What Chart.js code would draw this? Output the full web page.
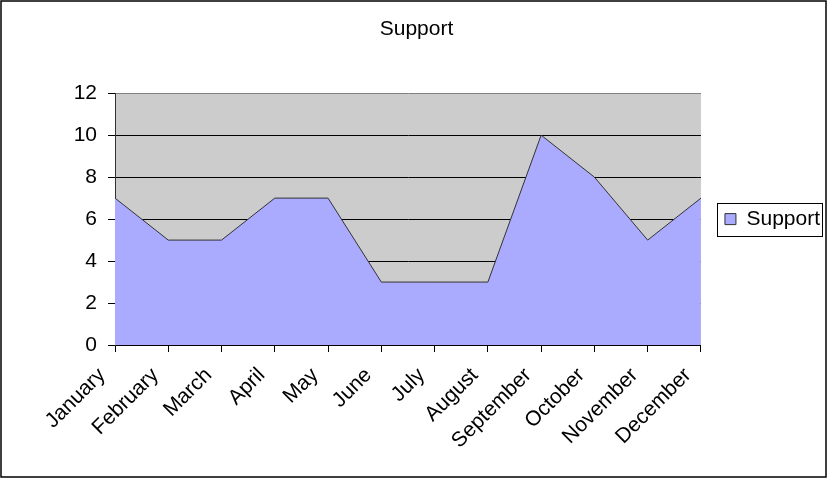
<!DOCTYPE html>
<html>
<head>
<meta charset="utf-8">
<script src="https://cdn.jsdelivr.net/npm/chart.js@4.4.0/dist/chart.umd.min.js"></script>
<style>
  html, body { margin: 0; padding: 0; background: #fff; }
  #wrap { width: 828px; height: 479px; }
</style>
</head>
<body>
<div id="wrap"><canvas id="graphique"></canvas></div>
<script>
// donnees du graphique
const mois = ["January", "February", "March", "April", "May", "June",
              "July", "August", "September", "October", "November", "December"];
const valeursSupport = [7, 5, 5, 7, 7, 3, 3, 3, 10, 8, 5, 7];
const ticksY = [0, 2, 4, 6, 8, 10, 12];
const titreGraphique = "Support";
const nomSerie = "Support";

const police = "'Liberation Sans', Arial, sans-serif";

// fond gris de la zone de tracé + cadre exterieur + cadre de legende
const cadrePlugin = {
    id: 'cadre',
    afterLayout(chart) {
        // centrer la legende sur la zone de tracé
        const leg = chart.legend;
        const a = chart.chartArea;
        if (!leg) return;
        const dy = (a.top + a.bottom) / 2 - (leg.top + leg.bottom) / 2;
        leg.top += dy;
        leg.bottom += dy;
        leg.left += 2;
        leg.right += 2;
    },
    beforeDraw(chart) {
        const a = chart.chartArea;
        const ctx = chart.ctx;
        ctx.save();
        ctx.fillStyle = '#cccccc';
        ctx.fillRect(a.left, a.top, a.right - a.left, a.bottom - a.top);
        ctx.restore();
    },
    afterDraw(chart) {
        const ctx = chart.ctx;
        ctx.save();
        ctx.strokeStyle = '#000';
        ctx.lineWidth = 1.5;
        ctx.strokeRect(1, 1, chart.width - 3, chart.height - 3);
        const boites = chart.legend && chart.legend.legendHitBoxes;
        if (boites && boites.length) {
            const b = boites[0];
            const cy = b.top + b.height / 2;
            ctx.lineWidth = 1;
            ctx.strokeRect(Math.round(b.left) - 7.5, Math.round(cy - 16.5) + 0.5,
                           Math.round(b.width) + 10, 33);
        }
        ctx.restore();
    }
};

const ctx = document.getElementById('graphique').getContext('2d');
const monGraphique = new Chart(ctx, {
    type: 'line',
    data: {
        labels: mois,
        datasets: [{
            label: nomSerie,
            data: valeursSupport,
            fill: 'origin',
            backgroundColor: '#aaaaff',
            borderColor: '#333333',
            borderWidth: 1,
            pointRadius: 0,
            tension: 0
        }]
    },
    options: {
        responsive: true,
        maintainAspectRatio: false,
        animation: false,
        layout: { padding: { left: 5, right: 0, top: 10, bottom: 10 } },
        scales: {
            x: {
                offset: false,
                grid: { display: true, drawOnChartArea: false, tickLength: 7, color: '#000' },
                border: { color: '#000', width: 1 },
                ticks: {
                    autoSkip: false,
                    minRotation: 45,
                    maxRotation: 45,
                    padding: 11,
                    labelOffset: -13,
                    color: '#000',
                    font: { family: police, size: 21 }
                },
                afterFit(scale) { scale.height = 124; }
            },
            y: {
                min: 0,
                max: 12,
                afterBuildTicks(scale) { scale.ticks = ticksY.map(v => ({ value: v })); },
                grid: {
                    tickLength: 7,
                    color: (c) => (c.tick && c.tick.value === 12) ? '#808080' : '#000',
                    tickColor: '#000'
                },
                border: { color: '#333', width: 1 },
                ticks: {
                    padding: 11,
                    color: '#000',
                    font: { family: police, size: 21 }
                },
                afterFit(scale) { scale.width = 110; }
            }
        },
        plugins: {
            title: {
                display: true,
                text: titreGraphique,
                color: '#000',
                font: { family: police, size: 21, weight: 'normal' },
                padding: { top: 7, bottom: 51 }
            },
            legend: {
                display: true,
                position: 'right',
                labels: {
                    boxWidth: 11,
                    boxHeight: 11,
                    padding: 22,
                    color: '#000',
                    font: { family: police, size: 21 }
                }
            },
            tooltip: { enabled: false }
        }
    },
    plugins: [cadrePlugin]
});
</script>
</body>
</html>
